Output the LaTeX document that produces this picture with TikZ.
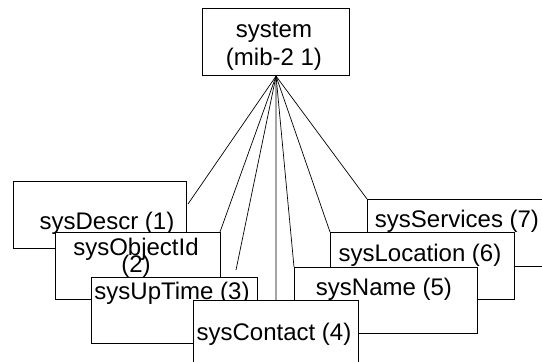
\documentclass[tikz,border=0pt]{standalone}
\usepackage{fontspec}
\setmainfont{Liberation Sans}
\begin{document}
\begin{tikzpicture}[x=1pt,y=-1pt,
  box/.style={draw=black, line width=1.1pt, fill=white, anchor=north west, inner sep=0pt},
  lbl/.style={font=\fontsize{24}{24}\selectfont, inner sep=0pt, anchor=base},
  conn/.style={draw=black, line width=0.7pt}]
\clip (0,0) rectangle (542,362);
\fill[white] (0,0) rectangle (542,362);
% root
\node[box, minimum width=147pt, minimum height=67pt] (sys) at (202,8) {};
\node[lbl] (sysA) at (274,37) {system};
\node[lbl] (sysB) at (274,65) {(mib-2 1)};
% coordinates for free connector ends
\coordinate (e1) at (188,204);
\coordinate (e3) at (236,270);
\coordinate (b2ne) at (220,232);
\coordinate (b4n) at (276,300);
\coordinate (b5nw) at (294,267);
\coordinate (b6nw) at (330,232);
\coordinate (b7nw) at (367,199);
\draw[conn] (sys.south) -- (e1);
\draw[conn] (sys.south) -- (b2ne);
\draw[conn] (sys.south) -- (e3);
\draw[conn] (sys.south) -- (b4n);
\draw[conn] (sys.south) -- (b5nw);
\draw[conn] (sys.south) -- (b6nw);
\draw[conn] (sys.south) -- (b7nw);
% left stack
\node[box, minimum width=173pt, minimum height=67pt] (b1) at (13,181) {};
\node[lbl] (t1) at (107,229) {sysDescr (1)};
\node[box, minimum width=165pt, minimum height=67pt] (b2) at (55,232) {};
\node[lbl] (t2a) at (136,255) {sysObjectId};
\node[lbl] (t2b) at (136,272) {(2)};
\node[box, minimum width=166pt, minimum height=66pt] (b3) at (91,277) {};
\node[lbl] (t3) at (172,299) {sysUpTime (3)};
% right stack
\node[box, minimum width=184pt, minimum height=67pt] (b7) at (367,199) {};
\node[lbl] (t7) at (457,227) {sysServices (7)};
\node[box, minimum width=184pt, minimum height=67pt] (b6) at (330,232) {};
\node[lbl] (t6) at (420,261) {sysLocation (6)};
\node[box, minimum width=183pt, minimum height=66pt] (b5) at (294,267) {};
\node[lbl] (t5) at (384,295) {sysName (5)};
% front
\node[box, minimum width=165pt, minimum height=70pt] (b4) at (193,300) {};
\node[lbl] (t4) at (274,340) {sysContact (4)};
\end{tikzpicture}
\end{document}
